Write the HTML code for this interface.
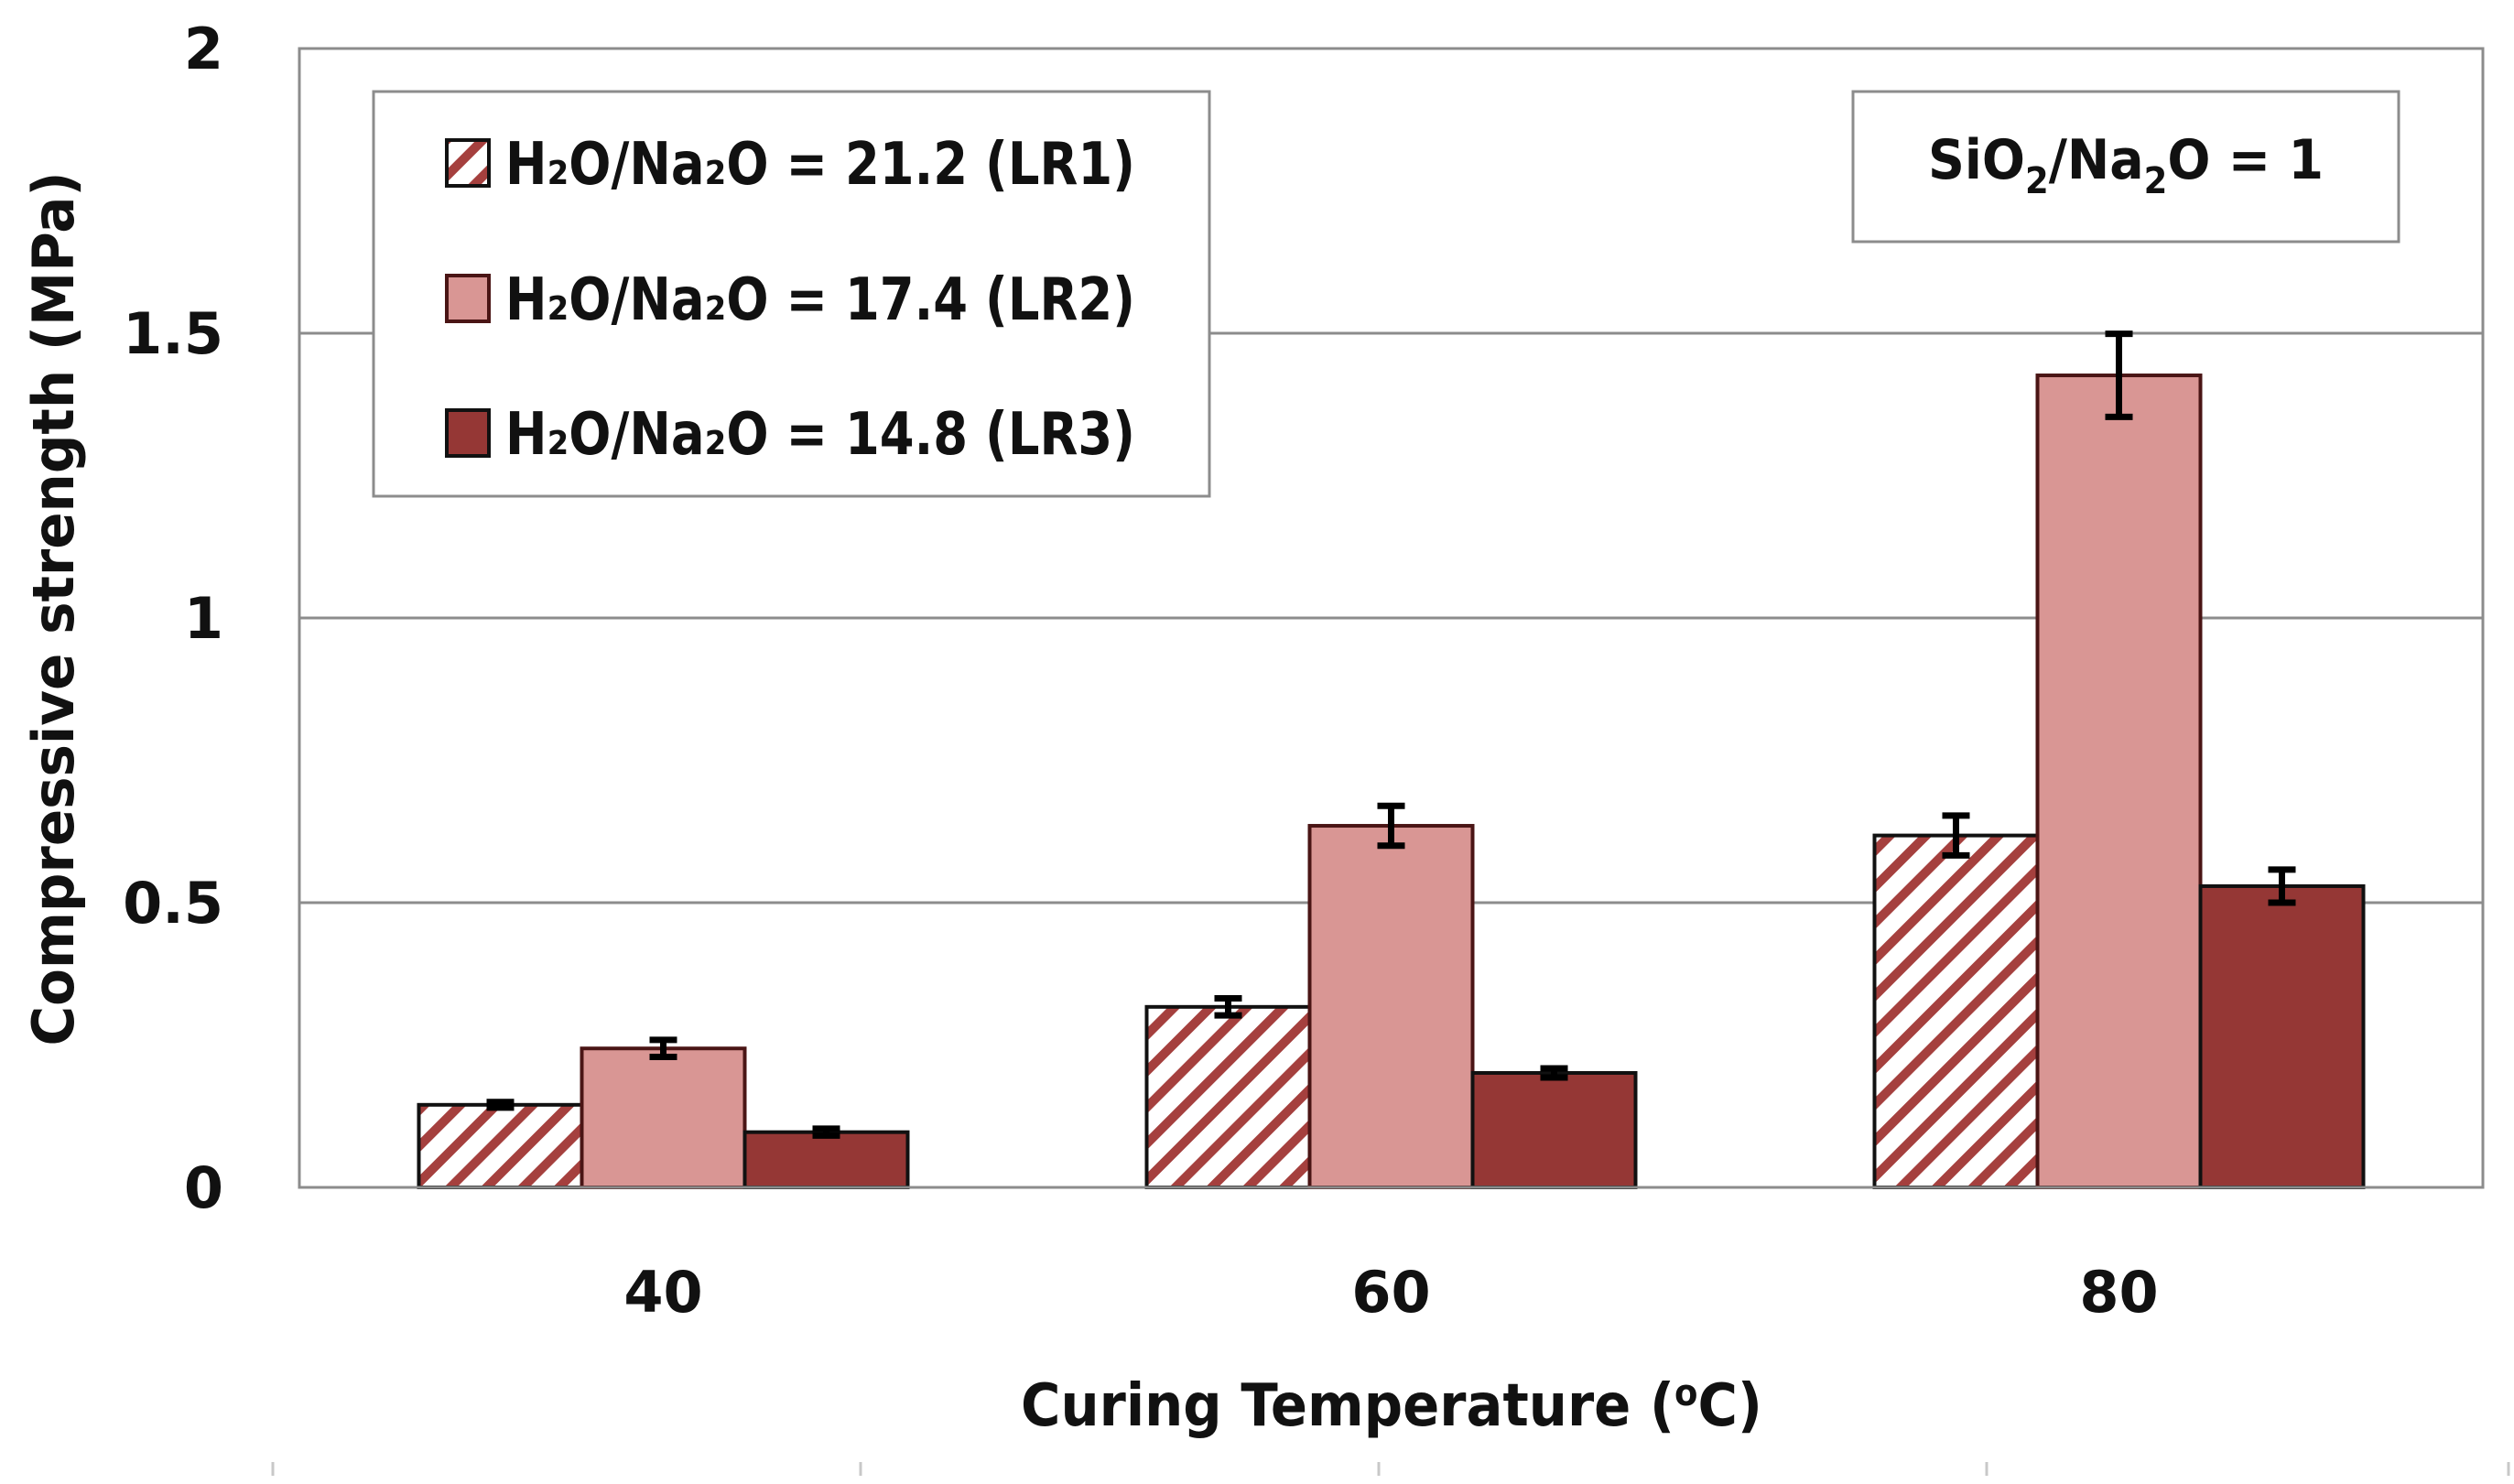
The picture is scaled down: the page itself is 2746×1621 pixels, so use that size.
<!DOCTYPE html>
<html><head><meta charset="utf-8"><style>
html,body{margin:0;padding:0;background:#fff;}
svg{display:block;font-family:"DejaVu Sans","Liberation Sans",sans-serif;font-weight:bold;}
</style></head><body>
<svg id="chart" width="2746" height="1621" viewBox="0 0 2746 1621">
<defs>
<pattern id="hatch" patternUnits="userSpaceOnUse" width="28" height="28" patternTransform="rotate(45)">
<rect width="28" height="28" fill="#fff"/>
<rect x="0" y="0" width="10" height="28" fill="#a5403e"/>
</pattern>
</defs>
<g id="grid"></g>
<g id="bars"></g>
<g id="axes"></g>
</svg>
<script>
const categories = ["40", "60", "80"];
const seriesNames = ["H\u2082O/Na\u2082O = 21.2 (LR1)", "H\u2082O/Na\u2082O = 17.4 (LR2)", "H\u2082O/Na\u2082O = 14.8 (LR3)"];
const lr1Values = [0.145, 0.317, 0.618];
const lr2Values = [0.244, 0.635, 1.426];
const lr3Values = [0.097, 0.201, 0.529];
const lr1Errors = [0.005, 0.015, 0.035];
const lr2Errors = [0.015, 0.035, 0.073];
const lr3Errors = [0.006, 0.008, 0.029];
const yTicks = [0, 0.5, 1, 1.5, 2];
const yTickLabels = ["0", "0.5", "1", "1.5", "2"];

const NS = "http://www.w3.org/2000/svg";
const L = 327, R = 2712, T = 53, B = 1297, yMax = 2;
const y = v => B - v / yMax * (B - T);
const bandW = (R - L) / categories.length;
const barW = 178;
const xBand = i => L + bandW * i;
const xCenter = i => xBand(i) + bandW / 2;
const xBar = (i, s) => xCenter(i) - 1.5 * barW + s * barW;

function mk(tag, attrs, parent) {
  const e = document.createElementNS(NS, tag);
  for (const k in attrs) e.setAttribute(k, attrs[k]);
  parent.appendChild(e);
  return e;
}
const grid = document.getElementById('grid');
const bars = document.getElementById('bars');
const axes = document.getElementById('axes');

yTicks.forEach((t, i) => {
  if (t > 0) {
    const g = mk('line', {x1: L, x2: R, y1: y(t), y2: y(t), stroke: '#8c8c8c', 'stroke-width': 3}, grid);
    
    
  }
  const tx = mk('text', {x: 244, y: y(t) + 22, 'text-anchor': 'end', 'font-size': 62, fill: '#111'}, axes);
  tx.textContent = yTickLabels[i];
  
  
});

const fills = ['url(#hatch)', '#d99694', '#953735'];
const strokes = ['#111', '#4a1515', '#111'];
const allVals = [lr1Values, lr2Values, lr3Values];
const allErr = [lr1Errors, lr2Errors, lr3Errors];
allVals.forEach((vals, s) => {
  vals.forEach((v, i) => {
    const r = mk('rect', {x: xBar(i, s), y: y(v), width: barW, height: B - y(v), fill: fills[s], stroke: strokes[s], 'stroke-width': 4}, bars);
    
    
  });
});
allVals.forEach((vals, s) => {
  vals.forEach((v, i) => {
    const e = allErr[s][i];
    const cx = xBar(i, s) + barW / 2;
    const g = mk('g', {stroke: '#000', 'stroke-width': 7}, bars);
    
    
    mk('line', {x1: cx, x2: cx, y1: y(v + e) - 3, y2: y(v - e) + 3}, g);
    mk('line', {x1: cx - 15, x2: cx + 15, y1: y(v + e), y2: y(v + e)}, g);
    mk('line', {x1: cx - 15, x2: cx + 15, y1: y(v - e), y2: y(v - e)}, g);
  });
});

const border = mk('rect', {x: L, y: T, width: R - L, height: B - T, fill: 'none', stroke: '#8c8c8c', 'stroke-width': 3}, axes);



categories.forEach((c, i) => {
  const t = mk('text', {x: xCenter(i), y: 1433, 'text-anchor': 'middle', 'font-size': 62, fill: '#111'}, axes);
  t.textContent = c;
  
  
});

[298, 940, 1506, 2170, 2740].forEach(x => {
  const l = mk('line', {x1: x, x2: x, y1: 1597, y2: 1612, stroke: '#c8c8c8', 'stroke-width': 3}, axes);
  
  
});

const xt = mk('text', {x: 1520, y: 1557, 'text-anchor': 'middle', 'font-size': 64, fill: '#111', textLength: 810, lengthAdjust: 'spacingAndGlyphs'}, axes);
xt.innerHTML = 'Curing Temperature (<tspan dy="-22" font-size="40">o</tspan><tspan dy="22">C)</tspan>';


const yt = mk('text', {x: 0, y: 0, 'text-anchor': 'middle', 'font-size': 62, fill: '#111', transform: 'translate(80,665) rotate(-90)', textLength: 955, lengthAdjust: 'spacingAndGlyphs'}, axes);
yt.textContent = 'Compressive strength (MPa)';



const lg = mk('g', {}, axes);


mk('rect', {x: 408, y: 100, width: 913, height: 442, fill: '#fff', stroke: '#8c8c8c', 'stroke-width': 3}, lg);
const ly = [178, 326, 473];
seriesNames.forEach((n, s) => {
  const sw = mk('rect', {x: 488, y: ly[s] - 25, width: 46, height: 50, fill: fills[s], stroke: strokes[s], 'stroke-width': 4}, lg);
  
  
  const t = mk('text', {x: 552, y: ly[s] + 23, 'font-size': 64, fill: '#111', textLength: 688, lengthAdjust: 'spacingAndGlyphs'}, lg);
  t.textContent = n;
  
  
});

const ab = mk('g', {}, axes);


mk('rect', {x: 2024, y: 100, width: 596, height: 164, fill: '#fff', stroke: '#8c8c8c', 'stroke-width': 3}, ab);
const at = mk('text', {x: 2106, y: 195, 'font-size': 60, fill: '#111', 'font-weight': 'bold', textLength: 432, lengthAdjust: 'spacingAndGlyphs'}, ab);
at.innerHTML = 'SiO<tspan dy="16" font-size="40">2</tspan><tspan dy="-16">/Na</tspan><tspan dy="16" font-size="40">2</tspan><tspan dy="-16">O = 1</tspan>';
</script>
</body></html>
